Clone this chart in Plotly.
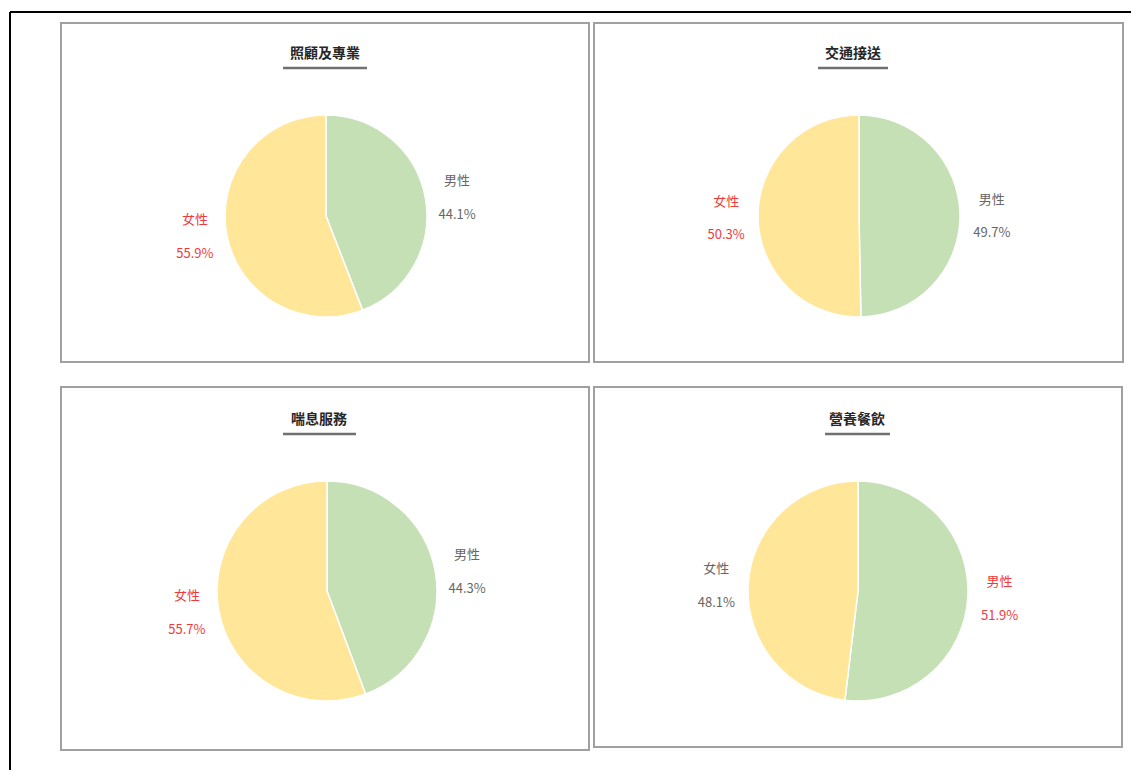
import plotly.graph_objects as go

# page body has an 8px margin; compensate so screen pixels match the reference
OFF = 8
W, H = 1139 - 2 * OFF, 778 - 2 * OFF

categories = ["照顧及專業", "交通接送", "喘息服務", "營養餐飲"]
genders = ["男性", "女性"]
male = [44.1, 49.7, 44.3, 51.9]
female = [55.9, 50.3, 55.7, 48.1]

colors = ["#C5E0B4", "#FFE699"]
RED = "#F03A3A"
GRAY = "#666666"

# layout (screen pixels)
panels = [(61, 23, 589, 362), (594, 23, 1123, 362), (61, 387, 589, 750), (594, 387, 1122, 747)]
centers = [(326, 216, 101), (859, 216, 101), (327, 591, 110), (858, 591, 110)]
title_pos = [(325, 52, 283, 367), (853, 52, 818, 888), (319, 418, 283, 356), (857, 418, 825, 890)]


def px(x):
    return (x - OFF) / W


def py(y):
    return 1 - (y - OFF) / H


fig = go.Figure()
shapes = []
annotations = []

for i, cat in enumerate(categories):
    vals = [male[i], female[i]]
    big = 0 if male[i] > female[i] else 1
    tcolors = [RED if k == big else GRAY for k in range(2)]
    cx, cy, r = centers[i]
    fig.add_trace(go.Pie(
        labels=genders,
        values=vals,
        sort=False,
        direction="clockwise",
        rotation=0,
        marker=dict(colors=colors, line=dict(color="white", width=1.5)),
        texttemplate="%{label}<br><br>%{percent:.1%}",
        textposition="outside",
        textfont=dict(color=tcolors, size=13, family="Noto Sans CJK TC"),
        outsidetextfont=dict(color=tcolors, size=13, family="Noto Sans CJK TC"),
        hoverinfo="label+percent",
        showlegend=False,
        domain=dict(x=[px(cx - r), px(cx + r)], y=[py(cy + r), py(cy - r)]),
        name=cat,
    ))
    x0, y0, x1, y1 = panels[i]
    shapes.append(dict(type="rect", xref="paper", yref="paper",
                       x0=px(x0), x1=px(x1), y0=py(y1), y1=py(y0),
                       line=dict(color="#A0A0A0", width=2), fillcolor="rgba(0,0,0,0)"))
    tx, ty, ux0, ux1 = title_pos[i]
    annotations.append(dict(text="<b>" + cat + "</b>", xref="paper", yref="paper",
                            x=px(tx), y=py(ty), showarrow=False, xanchor="center", yanchor="middle",
                            font=dict(size=14, color="#262626", family="Noto Sans CJK TC")))
    shapes.append(dict(type="line", xref="paper", yref="paper",
                       x0=px(ux0), x1=px(ux1), y0=py(ty + 16), y1=py(ty + 16),
                       line=dict(color="#707070", width=2.5)))

# outer black frame
shapes.append(dict(type="line", xref="paper", yref="paper", x0=px(10), x1=1, y0=py(12), y1=py(12),
                   line=dict(color="black", width=2)))
shapes.append(dict(type="line", xref="paper", yref="paper", x0=px(10), x1=px(10), y0=py(12), y1=0,
                   line=dict(color="black", width=2)))

fig.update_layout(
    width=W, height=H,
    margin=dict(l=0, r=0, t=0, b=0),
    paper_bgcolor="white",
    plot_bgcolor="white",
    shapes=shapes,
    annotations=annotations,
    font=dict(family="Noto Sans CJK TC"),
)

fig.write_html("out.html")
